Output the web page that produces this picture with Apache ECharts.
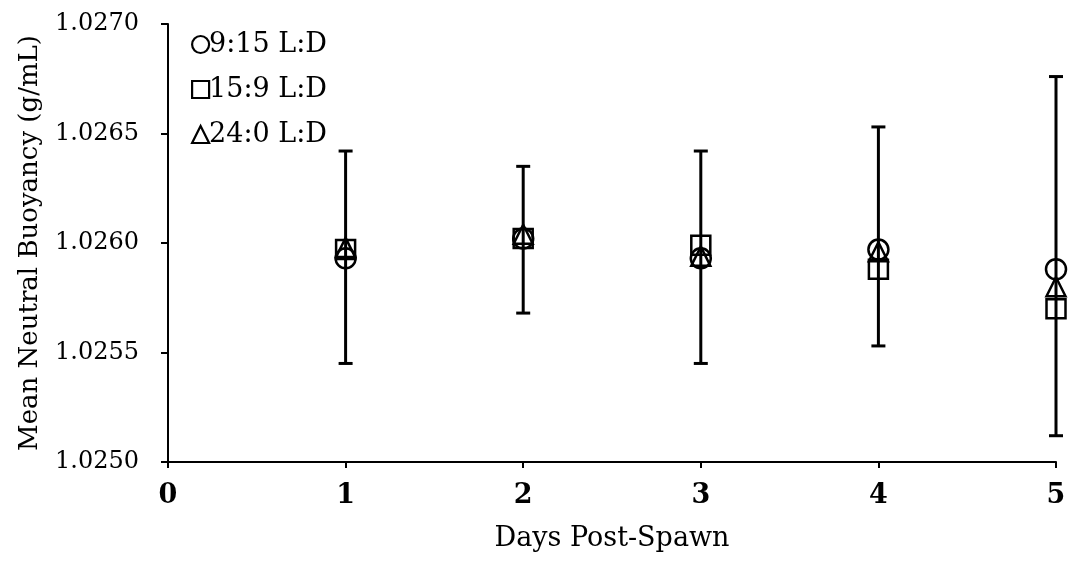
<!DOCTYPE html>
<html>
<head>
<meta charset="utf-8">
<script src="https://cdn.jsdelivr.net/npm/echarts@6/dist/echarts.min.js"></script>
<style>
  html, body { margin: 0; padding: 0; background: #fff; }
  #chart { width: 1071px; height: 565px; }
</style>
</head>
<body>
<div id="chart"></div>
<script>
// 数据
const days = [1, 2, 3, 4, 5]
const seriesNames = ['9:15 L:D', '15:9 L:D', '24:0 L:D']
const circleVals = [1.02593, 1.02602, 1.02593, 1.02597, 1.02588]
const squareVals = [1.02597, 1.02602, 1.02599, 1.02588, 1.02570]
const triangleVals = [1.02598, 1.02604, 1.02594, 1.02596, 1.02580]
const errLow = [1.02545, 1.02568, 1.02545, 1.02553, 1.02512]
const errHigh = [1.02642, 1.02635, 1.02642, 1.02653, 1.02676]

const font = 'DejaVu Serif'

function pairs(vals) {
    return days.map((d, i) => [d, vals[i]])
}

// 误差线数据
let errData = days.map((d, i) => [d, errLow[i], errHigh[i]])

function renderErr(params, api) {
    let x = api.value(0)
    let lo = api.coord([x, api.value(1)])
    let hi = api.coord([x, api.value(2)])
    let cap = 7
    let style = { stroke: '#000', lineWidth: 3 }
    return {
        type: 'group',
        children: [
            { type: 'line', shape: { x1: lo[0], y1: lo[1], x2: hi[0], y2: hi[1] }, style: style },
            { type: 'line', shape: { x1: lo[0] - cap, y1: lo[1], x2: lo[0] + cap, y2: lo[1] }, style: style },
            { type: 'line', shape: { x1: hi[0] - cap, y1: hi[1], x2: hi[0] + cap, y2: hi[1] }, style: style }
        ]
    }
}

let markerStyle = { color: 'rgba(0,0,0,0)', borderColor: '#000', borderWidth: 2.5, opacity: 1 }

var myChart = echarts.init(document.getElementById('chart'))
myChart.setOption({
    animation: false,
    backgroundColor: '#fff',
    grid: { left: 168, right: 15, top: 24, bottom: 103 },
    legend: {
        orient: 'vertical',
        left: 186,
        top: 25,
        itemWidth: 17,
        itemHeight: 17,
        itemGap: 16,
        data: [
            { name: seriesNames[0], icon: 'circle' },
            { name: seriesNames[1], icon: 'rect' },
            { name: seriesNames[2], icon: 'triangle' }
        ],
        itemStyle: { color: 'rgba(0,0,0,0)', borderColor: '#000', borderWidth: 2.2 },
        textStyle: { fontFamily: font, fontSize: 27, color: '#000', padding: [0, 0, 0, -5], lineHeight: 29 }
    },
    xAxis: {
        type: 'value',
        min: 0,
        max: 5,
        interval: 1,
        name: 'Days Post-Spawn',
        nameLocation: 'middle',
        nameGap: 63,
        nameTextStyle: { fontFamily: font, fontSize: 27, color: '#000' },
        axisLine: { lineStyle: { color: '#000', width: 2 } },
        axisTick: { inside: false, length: 6, lineStyle: { color: '#000', width: 2 } },
        axisLabel: { fontFamily: font, fontSize: 27, fontWeight: 'bold', color: '#000', margin: 20 },
        splitLine: { show: false }
    },
    yAxis: {
        type: 'value',
        min: 1.025,
        max: 1.027,
        interval: 0.0005,
        name: 'Mean Neutral Buoyancy (g/mL)',
        nameLocation: 'middle',
        nameGap: 125,
        nameTextStyle: { fontFamily: font, fontSize: 26, color: '#000' },
        axisLine: { show: true, lineStyle: { color: '#000', width: 2 } },
        axisTick: { show: true, inside: false, length: 7, lineStyle: { color: '#000', width: 2 } },
        axisLabel: {
            fontFamily: font, fontSize: 24, color: '#000', margin: 29,
            formatter: v => v.toFixed(4)
        },
        splitLine: { show: false }
    },
    series: [
        {
            name: 'err',
            type: 'custom',
            renderItem: renderErr,
            data: errData,
            encode: { x: 0, y: [1, 2] },
            z: 1
        },
        {
            name: seriesNames[0],
            type: 'scatter',
            symbol: 'circle',
            symbolSize: 20,
            itemStyle: markerStyle,
            data: pairs(circleVals),
            z: 3
        },
        {
            name: seriesNames[1],
            type: 'scatter',
            symbol: 'rect',
            symbolSize: 19,
            itemStyle: markerStyle,
            data: pairs(squareVals),
            z: 3
        },
        {
            name: seriesNames[2],
            type: 'scatter',
            symbol: 'triangle',
            symbolSize: 19,
            itemStyle: markerStyle,
            data: pairs(triangleVals),
            z: 3
        }
    ]
})
</script>
</body>
</html>
